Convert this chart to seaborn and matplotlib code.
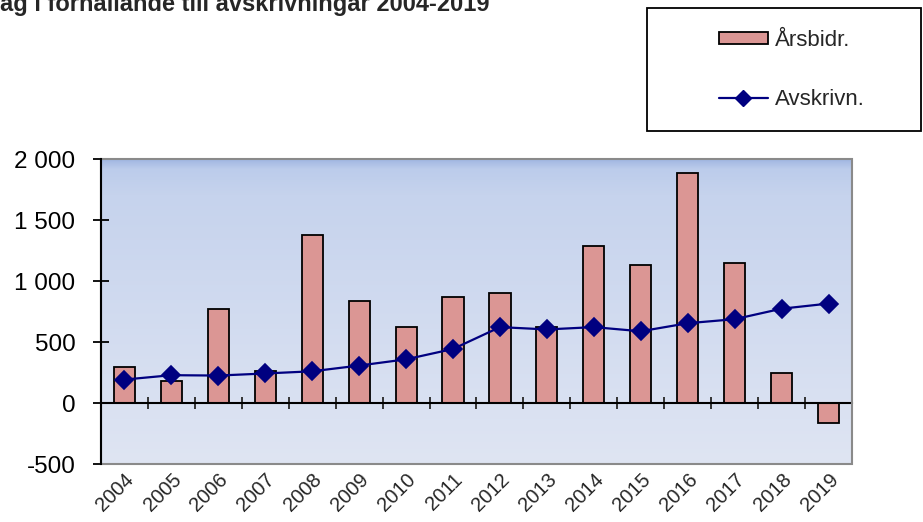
import numpy as np
import pandas as pd
import matplotlib
matplotlib.use('Agg')
import matplotlib.pyplot as plt
import seaborn as sns
from matplotlib.patches import Patch, Rectangle
from matplotlib.lines import Line2D
from matplotlib.ticker import FuncFormatter

# data
years = ['2004', '2005', '2006', '2007', '2008', '2009', '2010', '2011',
         '2012', '2013', '2014', '2015', '2016', '2017', '2018', '2019']
arsbidr = [295, 180, 770, 262, 1375, 836, 622, 869,
           900, 622, 1290, 1130, 1882, 1145, 245, -166]
avskrivn = [192, 228, 225, 242, 260, 307, 358, 443,
            622, 603, 622, 588, 654, 687, 773, 815]
yticks = [-500, 0, 500, 1000, 1500, 2000]
title = 'ag i förhållande till avskrivningar 2004-2019'
legend_labels = ['Årsbidr.', 'Avskrivn.']

bar_color = '#db9694'
line_color = '#000080'

sns.set_style('white')
plt.rcParams['font.family'] = ['Liberation Sans', 'DejaVu Sans']

df = pd.DataFrame({'year': years, 'arsbidr': arsbidr, 'avskrivn': avskrivn})

fig = plt.figure(figsize=(9.23, 5.22), dpi=100)
ax = fig.add_axes([0.1094, 0.1111, 0.8137, 0.5843])

# gradient background of the plot area
stops = np.array([0.0, 0.035, 0.12, 1.0])
cols = np.array([[158, 180, 225], [188, 204, 235], [198, 211, 237], [223, 229, 243]]) / 255
t = np.linspace(0, 1, 300)
grad = np.stack([np.interp(t, stops, cols[:, i]) for i in range(3)], axis=-1)[:, None, :]
ax.imshow(grad, extent=[0, 1, 0, 1], transform=ax.transAxes, aspect='auto', zorder=0)

sns.barplot(data=df, x='year', y='arsbidr', color=bar_color, saturation=1,
            edgecolor='black', linewidth=1.3, width=0.45, ax=ax, zorder=2)
sns.pointplot(data=df, x='year', y='avskrivn', color=line_color, markers='D',
              markersize=9, linewidth=1.6, ax=ax, zorder=3)

ax.set_xlim(-0.5, len(years) - 0.5)
ax.set_ylim(-500, 2000)
ax.set_xlabel('')
ax.set_ylabel('')

# y axis
ax.set_yticks(yticks)
ax.yaxis.set_major_formatter(FuncFormatter(lambda v, p: f'{v:,.0f}'.replace(',', ' ')))
ax.tick_params(axis='y', direction='inout', length=11, width=1.3, labelsize=17.5, pad=13,
               left=True, colors='black')
ax.spines['left'].set_linewidth(1.5)
ax.spines['left'].set_color('black')

# x axis line at zero with ticks between categories
ax.spines['bottom'].set_position(('data', 0))
ax.spines['bottom'].set_linewidth(1.5)
ax.spines['bottom'].set_color('black')
ax.set_xticks(np.arange(0.5, len(years), 1))
ax.tick_params(axis='x', direction='inout', length=8, width=1.3, labelbottom=False,
               bottom=True)
ax.spines['top'].set_visible(False)
ax.spines['right'].set_visible(False)

# gray border of the plot area
ax.add_patch(Rectangle((0, 0), 1, 1, transform=ax.transAxes, fill=False,
                       edgecolor='#8a8a8a', linewidth=1.5, zorder=4, clip_on=False))
ax.spines['left'].set_zorder(5)

# category labels at the bottom
sec = ax.secondary_xaxis('bottom')
sec.set_xticks(range(len(years)))
sec.set_xticklabels(years, rotation=45, ha='right', va='top', rotation_mode='anchor',
                    fontsize=14.5)
sec.tick_params(length=0, pad=4)
sec.spines['bottom'].set_visible(False)

# title (cut at the figure edge as in the original)
fig.text(0.0, 1 - 11 / 522, title, fontsize=17, fontweight='bold',
         ha='left', va='baseline')

# legend box
fig.patches.append(Rectangle((647 / 923, 1 - 131 / 522), (921 - 647) / 923, 123 / 522,
                             transform=fig.transFigure, facecolor='white',
                             edgecolor='black', linewidth=1.3, zorder=1))
handles = [Patch(facecolor=bar_color, edgecolor='black', linewidth=1.3),
           Line2D([], [], color=line_color, marker='D', markersize=8, linewidth=1.6)]
fig.legend(handles, legend_labels, loc='upper left', bbox_to_anchor=(719 / 923, 1 - 30 / 522),
           frameon=False, fontsize=16, borderpad=0, borderaxespad=0,
           handlelength=2.2, handleheight=0.5, handletextpad=0.3, labelspacing=1.7)

fig.savefig('out.png', dpi=100)
